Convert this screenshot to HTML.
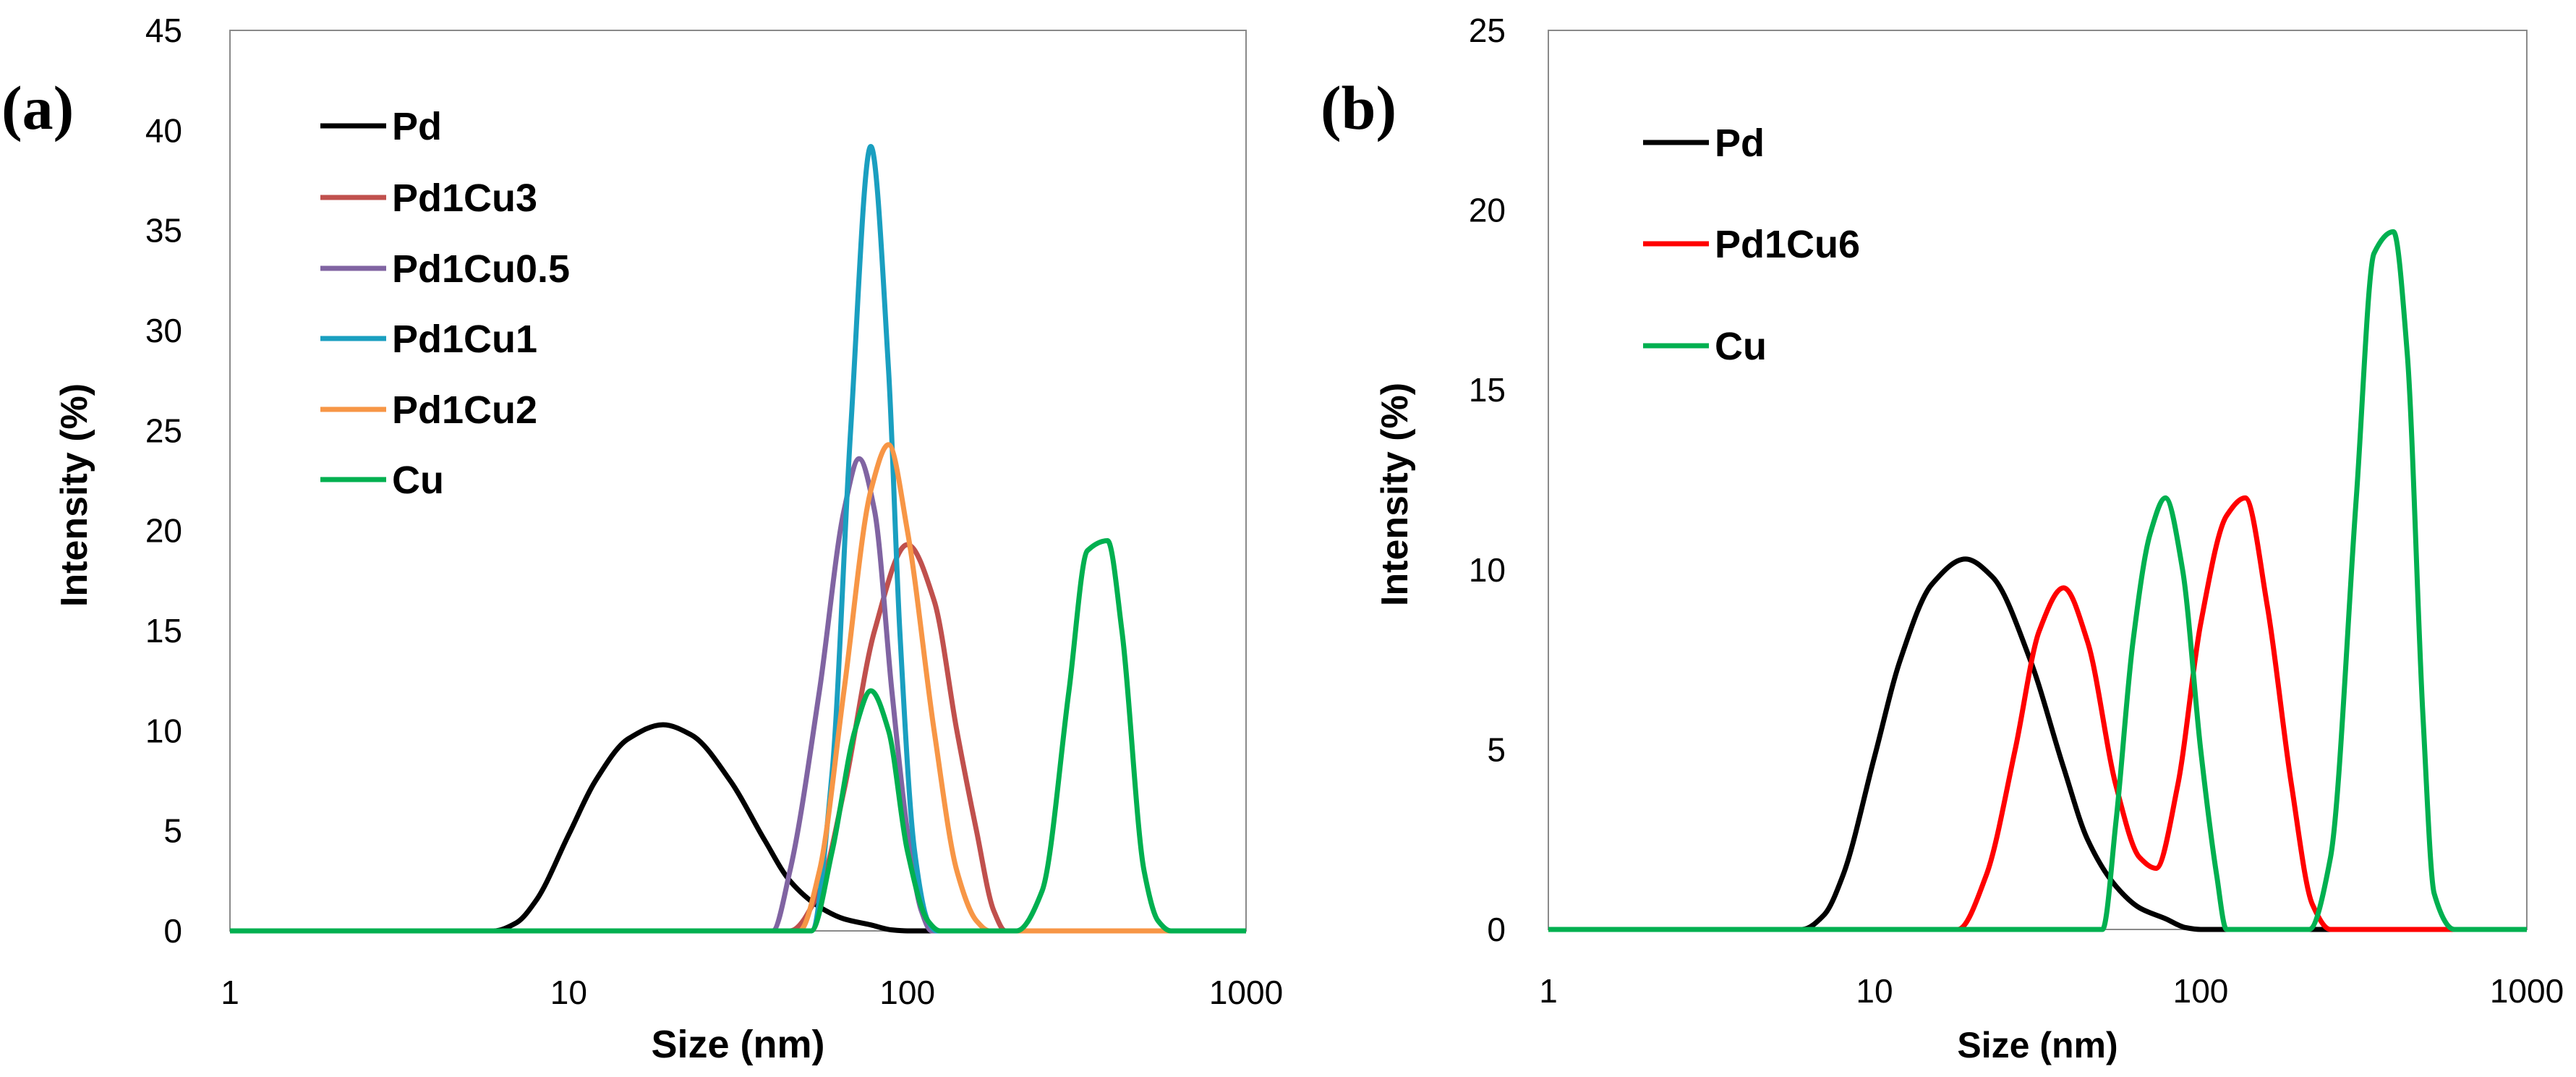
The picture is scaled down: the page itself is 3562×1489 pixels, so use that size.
<!DOCTYPE html>
<html><head><meta charset="utf-8"><style>
body{margin:0;background:#fff;}
svg{display:block;font-family:"Liberation Sans",sans-serif;}
</style></head><body>
<svg id="chart" width="3562" height="1489" viewBox="0 0 3562 1489" xmlns="http://www.w3.org/2000/svg"></svg>
<script>
// ---- data ----
const xTicks = [1, 10, 100, 1000];
const yTicksA = [0, 5, 10, 15, 20, 25, 30, 35, 40, 45];
const yTicksB = [0, 5, 10, 15, 20, 25];
const seriesNamesA = ["Pd", "Pd1Cu3", "Pd1Cu0.5", "Pd1Cu1", "Pd1Cu2", "Cu"];
const seriesNamesB = ["Pd", "Pd1Cu6", "Cu"];
const pdSize = [1, 6, 7, 8, 10, 12, 15, 19, 23, 30, 38, 45, 55, 65, 78, 90, 100, 1000];
const pdVal  = [0, 0, 0.4, 1.5, 4.8, 7.5, 9.6, 10.3, 9.8, 7.5, 4.5, 2.5, 1.2, 0.6, 0.3, 0.05, 0, 0];
const cu3Size = [1, 45, 55, 65, 80, 100, 120, 140, 160, 180, 195, 1000];
const cu3Val  = [0, 0, 2, 7, 15, 19.3, 16.5, 10, 5, 1, 0, 0];
const cu05Size = [1, 40, 45, 55, 65, 72, 80, 90, 100, 110, 118, 1000];
const cu05Val  = [0, 0, 3, 12, 21, 23.6, 21, 12, 5, 1, 0, 0];
const cu1Size = [1, 52, 60, 68, 78, 88, 95, 105, 115, 122, 1000];
const cu1Val  = [0, 0, 8, 25, 39.2, 28, 15, 4, 0.5, 0, 0];
const cu2Size = [1, 48, 55, 65, 78, 88, 100, 120, 140, 160, 175, 1000];
const cu2Val  = [0, 0, 3, 12, 22, 24.3, 20, 10, 3, 0.5, 0, 0];
const cuASize = [1, 52, 60, 70, 78, 88, 100, 115, 125, 210, 250, 300, 340, 390, 430, 500, 550, 600, 1000];
const cuAVal  = [0, 0, 4, 10, 12, 10, 4, 0.5, 0, 0, 2, 12, 19, 19.5, 15, 3, 0.5, 0, 0];
const cu6Size = [1, 18, 22, 27, 32, 38, 45, 55, 65, 73, 85, 100, 120, 137, 160, 190, 220, 250, 1000];
const cu6Val  = [0, 0, 1.5, 5, 8.3, 9.5, 8, 4, 2, 1.7, 4, 8.5, 11.5, 12, 9, 4, 0.7, 0, 0];
const cuBSize = [1, 50, 55, 62, 70, 78, 88, 100, 112, 120, 215, 250, 300, 340, 390, 430, 480, 520, 600, 1000];
const cuBVal  = [0, 0, 3, 8, 11, 12, 10, 5, 1.5, 0, 0, 2, 12, 18.8, 19.4, 16, 6, 1, 0, 0];

const NS = "http://www.w3.org/2000/svg";
const svg = document.getElementById("chart");
function mk(tag, attrs, parent) {
  const e = document.createElementNS(NS, tag);
  for (const k in attrs) e.setAttribute(k, attrs[k]);
  (parent || svg).appendChild(e);
  return e;
}
function path(pts) {
  const n = pts.length, xs = pts.map(p => p[0]), ys = pts.map(p => p[1]);
  const d = [], m = new Array(n).fill(0);
  for (let i = 0; i < n - 1; i++) d.push((ys[i + 1] - ys[i]) / (xs[i + 1] - xs[i]));
  m[0] = d[0]; m[n - 1] = d[n - 2];
  for (let i = 1; i < n - 1; i++) {
    if (d[i - 1] * d[i] <= 0) m[i] = 0;
    else { const w1 = 2 * (xs[i+1]-xs[i]) + (xs[i]-xs[i-1]), w2 = (xs[i+1]-xs[i]) + 2 * (xs[i]-xs[i-1]);
      m[i] = (w1 + w2) / (w1 / d[i - 1] + w2 / d[i]); }
  }
  let s = "M" + xs[0].toFixed(1) + "," + ys[0].toFixed(1);
  for (let i = 0; i < n - 1; i++) {
    const h = xs[i + 1] - xs[i];
    s += " C" + (xs[i] + h / 3).toFixed(1) + "," + (ys[i] + m[i] * h / 3).toFixed(1) + " " +
      (xs[i + 1] - h / 3).toFixed(1) + "," + (ys[i + 1] - m[i + 1] * h / 3).toFixed(1) + " " +
      xs[i + 1].toFixed(1) + "," + ys[i + 1].toFixed(1);
  }
  return s;
}
function panel(cfg) {
  const g = mk("g", {});
  
  
  const X = v => cfg.l + (Math.log10(v) / 3) * (cfg.r - cfg.l);
  const Y = v => cfg.b - (v / cfg.ymax) * (cfg.b - cfg.t);
  const frame = mk("rect", {x: cfg.l, y: cfg.t, width: cfg.r - cfg.l, height: cfg.b - cfg.t, fill: "none", stroke: "#8a8a8a", "stroke-width": 2}, g);
  
  
  cfg.yTicks.forEach(t => {
    const tx = mk("text", {x: cfg.ylx, y: Y(t) + 16, "text-anchor": "end", "font-size": 46, fill: "#000"}, g);
    tx.textContent = t;
    
    
  });
  xTicks.forEach(t => {
    const tx = mk("text", {x: X(t), y: cfg.xly, "text-anchor": "middle", "font-size": 46, fill: "#000"}, g);
    tx.textContent = t;
    
    
  });
  const xt = mk("text", {x: (cfg.l + cfg.r) / 2, y: cfg.xty, "text-anchor": "middle", "font-size": cfg.xtfs, "font-weight": "bold"}, g);
  xt.textContent = "Size (nm)";
  
  
  const cy = (cfg.t + cfg.b) / 2 + 20;
  const yt = mk("text", {x: cfg.ytx, y: cy, "text-anchor": "middle", "font-size": 52, "font-weight": "bold", transform: "rotate(-90 " + cfg.ytx + " " + cy + ")"}, g);
  yt.textContent = "Intensity (%)";
  
  
  const pl = mk("text", {x: cfg.plx, y: 178, "font-size": 86, "font-weight": "bold", "font-family": "Liberation Serif, serif"}, g);
  pl.textContent = cfg.label;
  
  
  cfg.series.forEach((s, i) => {
    const pts = s.x.map((v, j) => [X(v), Y(s.y[j])]);
    const p = mk("path", {d: path(pts), fill: "none", stroke: s.color, "stroke-width": 7, "stroke-linejoin": "round"}, g);
    
    
    const ly = cfg.legY[i];
    const ll = mk("line", {x1: cfg.legX1, x2: cfg.legX2, y1: ly, y2: ly, stroke: s.color, "stroke-width": 7}, g);
    
    
    const lt = mk("text", {x: cfg.legX2 + 8, y: ly + 19, "font-size": 54, "font-weight": "bold"}, g);
    lt.textContent = s.name;
    
    
  });
}
panel({name: "panel-a", label: "(a)", plx: 2, l: 318, r: 1723, t: 42, b: 1287, ymax: 45, yTicks: yTicksA,
  ylx: 252, xly: 1388, xty: 1462, xtfs: 54, ytx: 120,
  legX1: 443, legX2: 534, legY: [174, 273, 371, 468, 566, 663],
  series: [
    {name: seriesNamesA[0], x: pdSize, y: pdVal, color: "#000000"},
    {name: seriesNamesA[1], x: cu3Size, y: cu3Val, color: "#c0504d"},
    {name: seriesNamesA[2], x: cu05Size, y: cu05Val, color: "#8064a2"},
    {name: seriesNamesA[3], x: cu1Size, y: cu1Val, color: "#1a9fc0"},
    {name: seriesNamesA[4], x: cu2Size, y: cu2Val, color: "#f79646"},
    {name: seriesNamesA[5], x: cuASize, y: cuAVal, color: "#00b050"}
  ]});
panel({name: "panel-b", label: "(b)", plx: 1826, l: 2141, r: 3494, t: 42, b: 1285, ymax: 25, yTicks: yTicksB,
  ylx: 2082, xly: 1386, xty: 1462, xtfs: 50, ytx: 1946,
  legX1: 2272, legX2: 2363, legY: [197, 337, 478],
  series: [
    {name: seriesNamesB[0], x: pdSize, y: pdVal, color: "#000000"},
    {name: seriesNamesB[1], x: cu6Size, y: cu6Val, color: "#ff0000"},
    {name: seriesNamesB[2], x: cuBSize, y: cuBVal, color: "#00b050"}
  ]});
</script>
</body></html>
